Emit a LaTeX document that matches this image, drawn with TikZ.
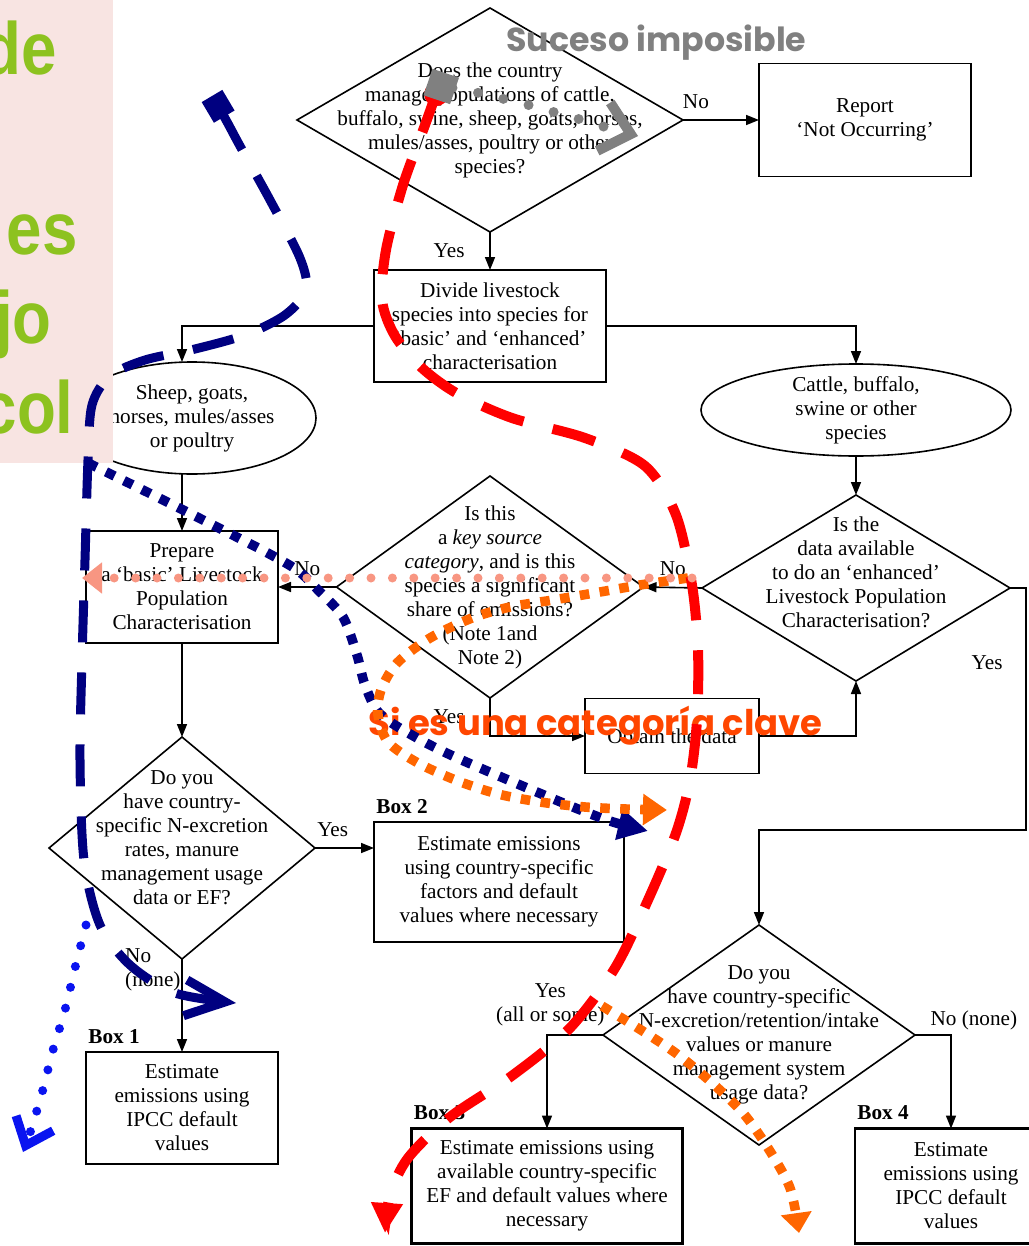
\documentclass[tikz,border=0pt]{standalone}
\usepackage{fontspec}
\usepackage{graphicx}
\setmainfont{Liberation Serif}
\newfontfamily\slidefont{Liberation Sans}
\newfontfamily\handfont{Poppins}
\usetikzlibrary{shapes.geometric,arrows.meta,positioning}

\definecolor{slidepink}{RGB}{248,228,226}
\definecolor{slidegreen}{RGB}{141,194,31}
\definecolor{marknavy}{RGB}{0,0,128}
\definecolor{markred}{RGB}{255,0,0}
\definecolor{markorange}{RGB}{255,102,0}
\definecolor{marksalmon}{RGB}{248,150,130}
\definecolor{markblue}{RGB}{10,20,240}
\definecolor{markgray}{RGB}{128,128,128}
\definecolor{noteorange}{RGB}{255,70,0}

\newcommand\slideword[1]{\scalebox{0.86}[1]{#1}}

\begin{document}
\begin{tikzpicture}[x=0.5pt,y=-0.5pt,
  font=\fontsize{10.6}{12}\selectfont,
  box/.style ={rectangle,draw,line width=0.8pt,align=center,inner sep=0pt,outer sep=0pt},
  ebox/.style={box,line width=1.4pt},
  dec/.style ={diamond,draw,line width=0.8pt,inner sep=0pt,outer sep=0pt},
  oval/.style={ellipse,draw,line width=0.8pt,inner sep=0pt,outer sep=0pt},
  txt/.style ={align=center,inner sep=0pt},
  boxno/.style={anchor=south west,inner sep=1pt,yshift=3pt,
               font=\fontsize{10.6}{12}\selectfont\bfseries},
  ar/.style  ={-{Triangle[length=6.5pt,width=5pt]},line width=0.8pt},
  green/.style={anchor=base east,inner sep=0pt,text=slidegreen,
               font=\slidefont\bfseries\fontsize{37}{37}\selectfont},
  navydash/.style={draw=marknavy,line width=4.5pt,dash pattern=on 21pt off 15pt},
  reddash/.style ={draw=markred,line width=5pt,dash pattern=on 22pt off 15pt},
  sqdot/.style   ={line width=4.8pt,dash pattern=on 4.8pt off 5.2pt},
  rdot/.style    ={line width=4.5pt,line cap=round,dash pattern=on 0pt off 10.7pt}
]
\useasboundingbox (0,0) rectangle (1028,1246);

% flowchart
\node[dec,minimum width=193pt,minimum height=112pt] (q1) at (490,120) {};
\node[txt] (q1text) at (q1) {Does the country\\manage populations of cattle,\\buffalo, swine, sheep, goats, horses,\\mules/asses, poultry or other\\species?};
\node[box,minimum width=106pt,minimum height=56.5pt] (report) at (865,120) {Report\\`Not Occurring'};
\node[box,minimum width=116pt,minimum height=56pt] (divide) at (490,326)
  {Divide livestock\\species into species for\\`basic' and `enhanced'\\characterisation};
\node[oval,minimum width=124pt,minimum height=56pt] (sheep) at (192,418) {};
\node[txt] (sheeptext) at (sheep) {Sheep, goats,\\horses, mules/asses\\or poultry};
\node[oval,minimum width=155pt,minimum height=46pt] (cattle) at (856,410) {};
\node[txt] (cattletext) at (cattle) {Cattle, buffalo,\\swine or other\\species};
\node[box,minimum width=96pt,minimum height=56pt] (basic) at (182,587)
  {Prepare\\a `basic' Livestock\\Population\\Characterisation};
\node[dec,minimum width=153.5pt,minimum height=111pt] (q2) at (490,587) {};
\node[txt] (q2text) at (q2) {Is this\\a \textit{key source}\\\textit{category}, and is this\\species a significant\\share of emissions?\\(Note 1and\\Note 2)};
\node[dec,minimum width=154pt,minimum height=93pt] (q4) at (856,588) {};
\node[txt,yshift=8pt] (q4text) at (q4) {Is the\\data available\\to do an `enhanced'\\Livestock Population\\Characterisation?};
\node[box,minimum width=87pt,minimum height=37.5pt] (obtain) at (672,736) {Obtain the data};
\node[dec,minimum width=133pt,minimum height=111pt] (q3) at (182,848) {};
\node[txt,yshift=5pt] (q3text) at (q3) {Do you\\have country-\\specific N-excretion\\rates, manure\\management usage\\data or EF?};
\node[ebox,minimum width=125pt,minimum height=60pt,label={[boxno]north west:Box 2}] (box2) at (499,882)
  {Estimate emissions\\using country-specific\\factors and default\\values where necessary};
\node[ebox,minimum width=96pt,minimum height=56pt,label={[boxno]north west:Box 1}] (box1) at (182,1108)
  {Estimate\\emissions using\\IPCC default\\values};
\node[dec,minimum width=156pt,minimum height=110pt] (q5) at (759,1035) {};
\node[txt] (q5text) at (q5) {Do you\\have country-specific\\N-excretion/retention/intake\\values or manure\\management system\\usage data?};
\node[ebox,minimum width=135.5pt,minimum height=57.5pt,label={[boxno]north west:Box 3}] (box3) at (547,1186)
  {Estimate emissions using\\available country-specific\\EF and default values where\\necessary};
\node[ebox,minimum width=96pt,minimum height=57.5pt,label={[boxno]north west:Box 4}] (box4) at (951,1186)
  {Estimate\\emissions using\\IPCC default\\values};
\coordinate (turn) at (1026,830);

\draw[ar] (q1.east) -- node[pos=0.17,above=2pt]{No} (report.west);
\draw[ar] (q1.south) -- node[left=9pt]{Yes} (divide.north);
\draw[ar] (divide.west) -| (basic.north |- sheep.north);
\draw[ar] (divide.east) -| (cattle.north);
\draw[ar] (basic.north |- sheep.south) -- (basic.north);
\draw[ar] (cattle.south) -- (q4.north);
\draw[ar] (q4.west) -- node[above=2pt]{No} (q2.east);
\draw[ar] (q2.west) -- node[above=2pt]{No} (basic.east);
\draw[ar] (q2.south) |- node[pos=0.25,left=9pt]{Yes} (obtain.west);
\draw[ar] (obtain.east) -| (q4.south);
\draw[ar] (basic.south) -- (q3.north);
\draw[ar] (q3.east) -- node[pos=0.3,above=2pt]{Yes} (q3.east -| box2.west);
\draw[ar] (q3.south) -- node[pos=0.12,anchor=east,align=left,xshift=3pt]{No\\(none)} (box1.north);
\draw[ar] (q4.east) -| node[pos=0.655,left=8pt]{Yes} (turn) -| (q5.north);
\draw[ar] (q5.west) -| node[pos=0.47,above=1pt,align=center]{Yes\\(all or some)} (box3.north);
\draw[ar] (q5.east) -| node[pos=0.15,anchor=south west,inner sep=2pt]{No (none)} (box4.north);

% slide panel
\fill[slidepink] (0,0) rectangle (113,463);
\node[green] (w1) at (57,75) {\slideword{de}};
\node[green] (w2) at (78,255) {\slideword{es}};
\node[green] (w3) at (52,343) {\slideword{jo}};
\node[green] (w4) at (74,433) {\slideword{col}};

% notes
\node[anchor=base west,inner sep=0pt,text=markgray] (impossible) at (506,52)
  {\resizebox{150pt}{!}{\handfont\bfseries Suceso imposible}};
\node[anchor=base west,inner sep=0pt,text=noteorange] (keycat) at (368,735)
  {\resizebox{227pt}{!}{\handfont\bfseries Si es una categoría clave}};

\draw[navydash,{Square[length=12pt,width=12pt]}-{Straight Barb[length=20pt,width=18pt]}]
  plot[smooth] coordinates {(212,96) (226,120) (240,146) (270,200) (300,258) (306,290) (285,315)
  (245,335) (195,349) (145,360) (110,376) (92,405) (88,460) (85,560) (82,660) (80,760) (84,860)
  (100,925) (130,965) (175,993) (236,1003)};
\draw[sqdot,draw=marknavy,-{Triangle[length=15pt,width=15pt]}]
  plot[smooth] coordinates {(88,463) (147,492) (203,520) (262,550) (297,570) (318,590) (343,617)
  (357,655) (365,685) (380,714) (417,738) (455,757) (513,782) (573,807) (613,822) (648,831)};
\draw[sqdot,draw=markorange,-{Triangle[length=12pt,width=15pt]}]
  plot[smooth] coordinates {(688,578) (640,585) (600,592) (553,600) (510,607) (472,618) (430,638)
  (397,663) (381,690) (378,715) (388,742) (418,763) (458,781) (498,794) (540,802) (585,807)
  (625,809) (667,810)};
\draw[sqdot,draw=markorange,-{Triangle[length=10pt,width=15pt]}]
  plot[smooth] coordinates {(602,1006) (641,1030) (677,1054) (711,1082) (743,1113) (768,1148)
  (790,1188) (799,1233)};
\draw[reddash,{Circle[length=12pt]}-{Triangle[length=15pt,width=15pt]}]
  plot[smooth] coordinates {(441,83) (434,100) (425,125) (403,185) (386,250) (382,300) (395,336)
  (422,368) (458,394) (512,418) (585,438) (645,466) (676,515) (692,585) (698,650) (697,720)
  (690,780) (676,833) (648,900) (615,968) (570,1028) (513,1075) (450,1117) (408,1158)
  (390,1195) (385,1233)};
\draw[rdot,draw=marksalmon,-{Triangle[length=10pt,width=15pt]}] (692,578) -- (82,578);
\draw[rdot,draw=markblue,-{Straight Barb[length=12pt,width=20pt]}]
  plot[smooth] coordinates {(86,925) (75,968) (65,1010) (53,1050) (42,1093) (30,1133) (23,1152)};
\draw[rdot,draw=markgray,line width=5pt,dash pattern=on 0pt off 13pt,
      {Square[length=14pt,width=14pt]}-{Straight Barb[length=14pt,width=25pt]}]
  plot[smooth] coordinates {(428,82) (442,86) (470,91) (495,97) (521,103) (546,110) (572,117)
  (598,125) (638,136)};
\end{tikzpicture}
\end{document}
